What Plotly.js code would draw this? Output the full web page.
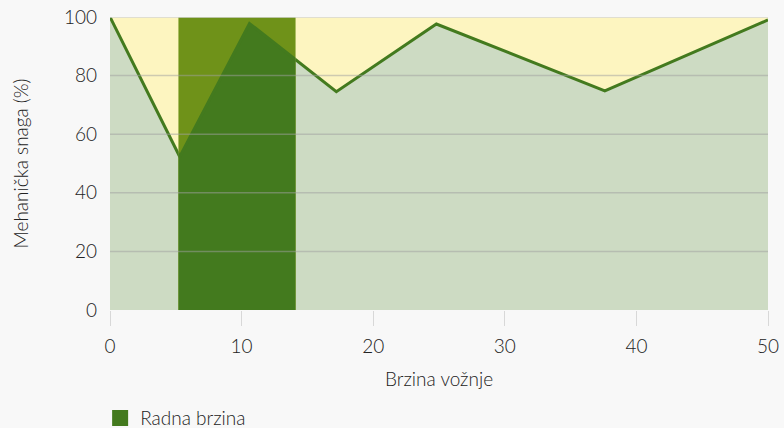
<!DOCTYPE html>
<html>
<head>
<meta charset="utf-8">
<script src="https://cdn.plot.ly/plotly-3.0.1.min.js"></script>
<style>html,body{margin:0;padding:0;background:#f8f8f8;}#chart{width:784px;height:428px;}</style>
</head>
<body>
<div id="chart"></div>
<script>
// Data
var speed = [0, 5.3, 10.6, 17.2, 24.8, 37.6, 50];
var power = [100, 52.3, 97.8, 74.5, 97.6, 74.8, 99];
var bandRange = [5.2, 14.1];
var bandName = 'Radna brzina';
var xTicks = [0, 10, 20, 30, 40, 50];
var yTicks = [0, 20, 40, 60, 80, 100];
var xTitle = 'Brzina vožnje';
var yTitle = 'Mehanička snaga (%)';

var dark = '#437a1e', olive = '#6f9219', light = '#cddbc3', yellow = '#fdf5c0';
var FAM = 'Lato, Roboto, sans-serif';
var fnt = {family: FAM, size: 19, color: '#222', weight: 300};

var traces = [
  {x: speed, y: power, type: 'scatter', mode: 'lines', fill: 'tozeroy', fillcolor: light,
   line: {color: dark, width: 3}, showlegend: false, hoverinfo: 'skip', xaxis: 'x', yaxis: 'y'},
  {x: [speed[0], speed[speed.length-1]], y: [yTicks[yTicks.length-1], yTicks[yTicks.length-1]], type: 'scatter', mode: 'lines', fill: 'tozeroy', fillcolor: olive,
   line: {width: 0, color: olive}, showlegend: false, hoverinfo: 'skip', xaxis: 'x2', yaxis: 'y'},
  {x: speed, y: power, type: 'scatter', mode: 'lines', fill: 'tozeroy', fillcolor: dark,
   line: {color: dark, width: 3}, showlegend: false, hoverinfo: 'skip', xaxis: 'x2', yaxis: 'y'},
  {x: [null], y: [null], type: 'scatter', mode: 'markers', name: bandName,
   marker: {symbol: 'square', size: 17, color: dark}, xaxis: 'x', yaxis: 'y'}
];

// gridlines above the fills
var shapes = yTicks.slice(1).map(function (v) {
  return {type: 'line', xref: 'paper', yref: 'y', x0: 0, x1: 1, y0: v, y1: v, layer: 'above',
          line: {color: v === yTicks[yTicks.length-1] ? '#d6d6d6' : 'rgba(160,160,160,0.5)', width: 1.5}};
});

var x0 = xTicks[0], x1 = xTicks[xTicks.length-1];
var layout = {
  width: 784, height: 428,
  margin: {l: 110, r: 16, t: 17, b: 118},
  paper_bgcolor: '#f8f8f8', plot_bgcolor: yellow,
  font: fnt,
  showlegend: true,
  shapes: shapes,
  legend: {orientation: 'h', x: -0.015, xanchor: 'left', yref: 'container', y: 0.023, yanchor: 'middle',
           font: {family: FAM, size: 19, color: '#222', weight: 300}, bgcolor: 'rgba(0,0,0,0)'},
  xaxis: {range: [x0, x1], tickvals: xTicks, ticks: 'outside', ticklen: 15, tickcolor: '#d8d8d8', tickwidth: 1,
          showgrid: false, zeroline: false, showline: false, ticklabelstandoff: 4,
          title: {text: xTitle, font: {size: 19}, standoff: 16}, fixedrange: true},
  xaxis2: {range: bandRange, domain: [bandRange[0]/x1, bandRange[1]/x1], anchor: 'y', visible: false, fixedrange: true},
  yaxis: {range: [0, 100], tickvals: yTicks, showgrid: false,
          zeroline: false, ticks: '', ticklabelstandoff: 12,
          title: {text: yTitle, font: {size: 19}, standoff: 30}, fixedrange: true}
};

Plotly.newPlot('chart', traces, layout, {displayModeBar: false, staticPlot: true});
</script>
</body>
</html>
